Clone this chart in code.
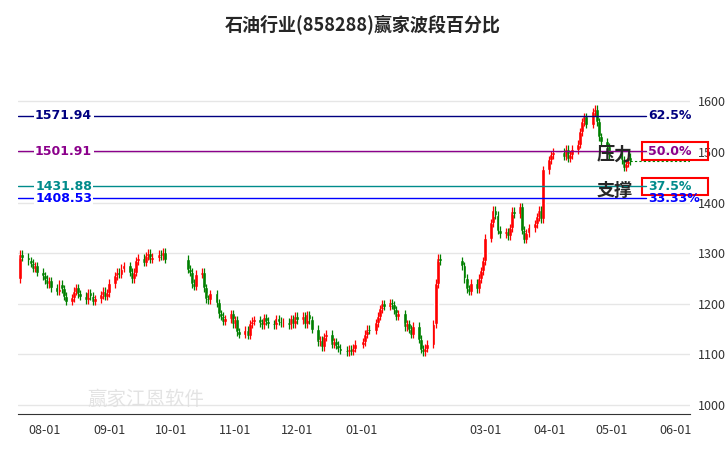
import numpy as np, pandas as pd, matplotlib
matplotlib.use("Agg")
import matplotlib.pyplot as plt, seaborn as sns
import matplotlib.dates as mdates

sns.set_style("white")
plt.rcParams['font.family'] = ['Noto Sans CJK SC', 'DejaVu Sans']

holidays = ["2023-09-29","2023-10-02","2023-10-03","2023-10-04","2023-10-05","2023-10-06",
            "2024-01-01","2024-02-09","2024-02-12","2024-02-13","2024-02-14","2024-02-15","2024-02-16",
            "2024-04-04","2024-04-05","2024-05-01","2024-05-02","2024-05-03"]
closes = {
 "2023-07": [1298,1292,1285,1280,1270,1275,1262,1255],
 "2023-08": [1248,1240,1245,1232,1225,1238,1230,1215,1205,1212,1225,1232,1220,1215,1208,1222,1215,1205,1210,1218,1225,1215,1222],
 "2023-09": [1240,1255,1262,1258,1270,1275,1262,1250,1262,1285,1290,1282,1295,1300,1288,1292,1298,1295,1302,1288],
 "2023-10": [1268,1262,1240,1235,1258,1262,1232,1210,1208,1220,1202,1180,1175,1165,1170,1180,1160],
 "2023-11": [1168,1145,1140,1148,1138,1160,1165,1168,1162,1158,1172,1165,1160,1158,1170,1165,1162,1163,1158,1170,1160,1175],
 "2023-12": [1168,1175,1160,1178,1168,1150,1125,1128,1115,1135,1140,1120,1125,1118,1112,1108,1105,1110,1106,1112,1120],
 "2024-01": [1125,1140,1150,1148,1162,1175,1190,1200,1195,1202,1198,1188,1175,1180,1155,1160,1150,1140,1155,1130,1110,1105],
 "2024-02": [1112,1120,1160,1240,1290,1285,1275,1250,1230,1225,1240,1230,1250,1265,1285],
 "2024-03": [1330,1360,1385,1375,1345,1338,1342,1335,1350,1383,1378,1392,1345,1328,1340,1350,1358,1372,1385,1368,1465],
 "2024-04": [1485,1495,1500,1492,1505,1488,1495,1505,1515,1540,1560,1570,1555,1580,1585,1560,1530,1520,1510,1495],
 "2024-05": [1485,1470,1478,1490,1483],
}
first_open = 1250
levels = [1571.94, 1501.91, 1431.88, 1408.53]
level_pct = ["62.5%", "50.0%", "37.5%", "33.33%"]
level_cols = ["#000080", "#8B008B", "#008B8B", "#0000FF"]
tick_dates = ["2023-08-01","2023-09-01","2023-10-01","2023-11-01","2023-12-01","2024-01-01",
              "2024-03-01","2024-04-01","2024-05-01","2024-06-01"]

bd = pd.bdate_range("2023-07-20", "2024-05-10")
bd = bd[~bd.isin(pd.to_datetime(holidays))]
dates, cl = [], []
for m, vals in closes.items():
    md = bd[bd.strftime("%Y-%m") == m]
    n = min(len(md), len(vals))
    dates += list(md[:n]); cl += vals[:n]
cl = np.array(cl, float)
op = np.concatenate([[first_open], cl[:-1]])
x = mdates.date2num(dates)

fig = plt.figure(figsize=(7.26, 4.5), dpi=100)
ax = fig.add_axes([0.025, 0.08, 0.925, 0.835])
up = cl >= op
col = np.where(up, "#FF0000", "#008000")
hi = np.maximum(op, cl) + 8; lo = np.minimum(op, cl) - 8
ax.vlines(x, lo, hi, colors=col, lw=0.9)
ax.bar(x, np.abs(cl-op)+2, bottom=np.minimum(op, cl)-1, width=1.9, color=col)

xmin, xmax = mdates.date2num(pd.Timestamp("2023-07-20"))-1, mdates.date2num(pd.Timestamp("2024-06-08"))
ax.set_xlim(xmin, xmax); ax.set_ylim(982, 1725)
for v in range(1000, 1700, 100):
    ax.axhline(v, color="#e6e6e6", lw=1, zorder=0)
xl = mdates.date2num(pd.Timestamp("2024-05-18"))
for v, p, c in zip(levels, level_pct, level_cols):
    ax.plot([xmin, xl], [v, v], color=c, lw=1)
    ax.text(mdates.date2num(pd.Timestamp("2023-08-10")), v, f"{v:.2f}", color=c, fontsize=9,
            fontweight="bold", ha="center", va="center", family="DejaVu Sans",
            bbox=dict(fc="white", ec="none", pad=1))
    ax.text(xl+1, v, p, color=c, fontsize=9, fontweight="bold", va="center", family="DejaVu Sans")
for v in [1501.91, 1431.88]:
    ax.add_patch(plt.Rectangle((xl-2, v-17), 32, 34, fill=False, ec="red", lw=1.5, clip_on=False))
ax.plot([x[-1], xmax], [cl[-1], cl[-1]], color="green", lw=0.8, ls=(0, (2, 2)))
ax.text(mdates.date2num(pd.Timestamp("2024-04-24")), 1495, "压力", fontsize=13, fontweight="bold", va="center")
ax.text(mdates.date2num(pd.Timestamp("2024-04-24")), 1425, "支撑", fontsize=13, fontweight="bold", va="center")

ax.yaxis.tick_right()
ax.set_yticks(range(1000, 1700, 100))
ax.tick_params(axis="y", length=0, labelsize=9, colors="#333333", pad=6)
ax.set_xticks(mdates.date2num(pd.to_datetime(tick_dates)))
ax.set_xticklabels([d[5:] for d in tick_dates], fontsize=9, color="#333333")
ax.tick_params(axis="x", length=4, color="#333333")
for s in ["top", "right", "left"]:
    ax.spines[s].set_visible(False)
ax.spines["bottom"].set_color("#333333")
fig.text(0.5, 0.945, "石油行业(858288)赢家波段百分比", ha="center", va="center", fontsize=13, fontweight="bold")
fig.text(0.12, 0.1, "赢家江恩软件", fontsize=14, color="#dddddd", alpha=0.8)
fig.savefig("out.png")
